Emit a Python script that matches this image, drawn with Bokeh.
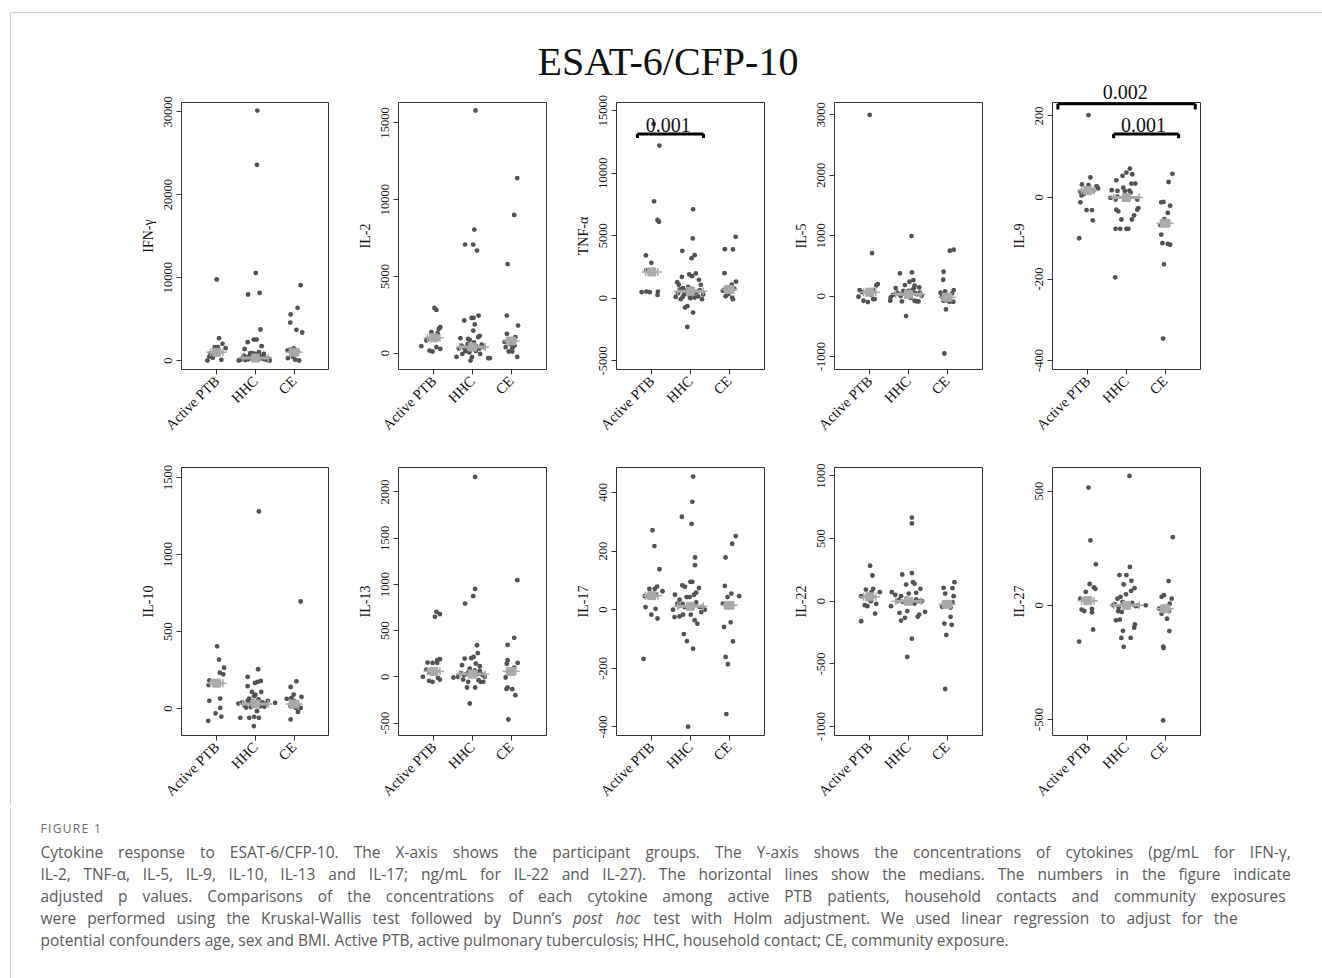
import math
from bokeh.plotting import figure
from bokeh.layouts import row, column
from bokeh.models import Range1d, FixedTicker, Label, Arrow, NumeralTickFormatter, Div, ColumnDataSource
from bokeh.core.properties import value
from bokeh.embed import file_html
from bokeh.resources import INLINE

GROUPS = ["Active PTB", "HHC", "CE"]

# ---------------- data ----------------
IFNG_PTB = [9770, 2690, 2010, 1600, 1600, 1490, 880, 480, 320, 0, 80, 720]
IFNG_PTB_JIT = [0.00, 0.06, 0.15, -0.05, 0.03, 0.23, -0.16, -0.19, -0.10, -0.24, 0.12, -0.07]
IFNG_HHC = [30150, 23600, 10570, 7960, 8160, 3740, 2210, 2530, 2530, 1730, 1400, 880, 1000, 800,
            0, 100, 250, 600, 50, 400, 150, 700, 300, 500, 200, 650, 100, 350, 550, 250, 450, 150,
            300, 50, 200, 0, 800, 900]
IFNG_HHC_JIT = [0.05, 0.04, 0.01, -0.19, 0.11, 0.13, -0.20, -0.04, 0.03, 0.16, -0.28, -0.13, 0.09, 0.22,
                -0.43, -0.38, -0.33, -0.30, -0.26, -0.22, -0.18, -0.14, -0.10, -0.06, -0.02, 0.02, 0.05,
                0.08, 0.12, 0.15, 0.19, 0.23, 0.27, 0.31, 0.35, 0.37, 0.0, -0.08]
IFNG_CE = [9085, 6350, 5550, 4580, 3700, 3380, 280, 440, 1130, 0, 1300, 100, 1450, 1200]
IFNG_CE_JIT = [0.17, 0.09, -0.09, -0.10, 0.06, 0.21, -0.16, -0.03, 0.09, 0.13, -0.10, 0.03, -0.01, -0.17]
IFNG_MED = [1000, 300, 1000]

IL2_PTB = [2950, 2820, 1690, 1580, 1370, 1300, 930, 930, 455, 170, 110, 280, 390, 825]
IL2_PTB_JIT = [0.02, 0.07, 0.17, 0.13, -0.06, 0.10, -0.17, 0.07, -0.32, -0.11, -0.03, 0.17, 0.07, -0.19]
IL2_HHC = [15800, 8050, 7070, 7070, 6680, 2450, 2300, 2300, 2130, 1870, 1475, 1130, 1040, 975, 930, 870,
           -240, -45, -480, -260, -45, -325, -325, 130, 430, 300, 500, 350, 600, 250, 700, 450, 300,
           550, 400, 150, 50]
IL2_HHC_JIT = [0.08, 0.05, -0.19, 0.02, 0.12, 0.16, -0.02, 0.03, -0.21, 0.06, 0.02, 0.19, 0.15, -0.31,
               -0.11, -0.07, -0.41, -0.26, -0.05, -0.01, 0.20, 0.41, 0.45, -0.18, -0.14, -0.35, -0.28,
               -0.22, -0.12, -0.04, 0.04, 0.10, 0.18, 0.24, 0.30, 0.09, -0.08]
IL2_CE = [11400, 9000, 5800, 2450, 1800, 1260, 1040, 825, 740, 600, 390, 500, 110, 110, -240, 325]
IL2_CE_JIT = [0.16, 0.08, -0.09, -0.11, 0.18, -0.11, 0.11, 0.01, -0.17, -0.03, -0.14, 0.09, -0.06, 0.03, 0.16, 0.03]
IL2_MED = [1000, 400, 800]

TNF_PTB = [13930, 12200, 7740, 6250, 6110, 3420, 2830, 2240, 2240, 480, 534, 480, 534, 267]
TNF_PTB_JIT = [0.05, 0.20, 0.06, 0.15, 0.19, -0.15, -0.01, -0.14, 0.03, -0.26, -0.14, -0.05, 0.16, 0.15]
TNF_HHC = [7100, 4780, 3790, 3440, 3200, 1900, 1980, 1760, 1710, 1470, 1280, 1070, 1070, 800, 900,
           -750, -640, -1150, -2300, 107, -80, -80, 53, 400, 700, 300, 600, 200, 750, 350, 500, 150,
           650, 300, 0, 100]
TNF_HHC_JIT = [0.07, 0.06, -0.21, 0.11, 0.03, -0.03, 0.14, 0.04, -0.22, 0.22, -0.34, -0.30, 0.27, -0.19,
               -0.06, -0.14, -0.08, 0.07, -0.08, -0.38, -0.25, 0.30, 0.11, -0.32, -0.26, -0.16, -0.10,
               -0.02, 0.04, 0.09, 0.16, 0.20, 0.24, 0.33, 0.0, -0.20]
TNF_CE = [4910, 3920, 3900, 2000, 1330, 1090, 800, 590, 160, 53, -80, 320, 770, 670]
TNF_CE_JIT = [0.17, -0.11, 0.10, -0.12, 0.18, 0.07, -0.06, -0.16, -0.09, 0.08, 0.10, -0.02, 0.13, -0.13]
TNF_MED = [2100, 550, 700]

IL5_PTB = [3000, 712, 199, 177, 99, 66, 99, 22, -11, -77, -99, -50, -50]
IL5_PTB_JIT = [0.00, 0.06, 0.21, 0.17, -0.26, -0.20, 0.09, 0.04, -0.29, -0.16, -0.05, 0.09, 0.13]
IL5_HHC = [994, 375, 392, 265, 237, 182, 133, 171, 143, 88, 33, -22, -77, -88, -77, -88, -88, -331, 88, 5,
           20, 60, 0, 40, 70, 10, 100, 130, 50, 30, 60, -30]
IL5_HHC_JIT = [0.08, -0.22, 0.09, 0.13, 0.03, -0.09, -0.33, 0.16, 0.28, -0.13, -0.24, -0.46, -0.47, -0.17,
               0.16, 0.22, 0.26, -0.06, 0.00, 0.34, -0.40, -0.30, -0.20, -0.12, -0.04, 0.04, 0.10, 0.14,
               0.18, 0.22, 0.30, 0.06]
IL5_CE = [767, 751, 403, 270, 77, 55, 99, 44, -11, -77, -77, -94, -94, -221, -950, -33]
IL5_CE_JIT = [0.17, 0.07, -0.09, -0.10, -0.05, -0.17, 0.17, 0.13, -0.13, -0.09, 0.02, 0.07, 0.16, -0.03, -0.07, 0.00]
IL5_MED = [65, 30, -20]

IL9_PTB = [202, 49, 32, 30, 28, 22, 14, 17, 5, -12, -31, -31, -56, -100, 9]
IL9_PTB_JIT = [0.02, 0.07, -0.15, 0.02, 0.23, 0.27, -0.19, 0.15, -0.16, -0.19, -0.03, 0.11, 0.13, -0.22, -0.09]
IL9_HHC = [71, 61, 57, 53, 42, 34, 18, 16, 16, 17, 12, 2, -1, -5, -5, -26, -30, -30, -34, -44, -54, -54,
           -77, -77, -77, -77, -196, 24, 34, 5]
IL9_HHC_JIT = [0.09, 0.00, 0.15, -0.10, -0.26, 0.23, -0.38, -0.23, -0.04, 0.08, 0.11, -0.23, -0.41, 0.28,
               -0.28, 0.31, -0.26, 0.28, -0.21, 0.20, -0.13, 0.14, -0.16, 0.00, 0.05, -0.28, -0.29, -0.08,
               0.13, -0.03]
IL9_CE = [58, 38, -11, -12, -20, -38, -53, -68, -91, -112, -114, -116, -164, -346, -63]
IL9_CE_JIT = [0.19, 0.09, -0.04, -0.10, 0.13, 0.07, -0.02, -0.12, -0.10, -0.07, 0.07, 0.13, -0.03, -0.05, 0.03]
IL9_MED = [17, 0, -63]

IL10_PTB = [404, 317, 265, 222, 233, 183, 153, 50, 65, 4, -32, -52, -80]
IL10_PTB_JIT = [0.01, 0.06, 0.19, 0.17, 0.08, -0.19, -0.21, -0.19, 0.09, 0.09, -0.03, 0.12, -0.22]
IL10_HHC = [1280, 255, 205, 179, 173, 166, 145, 108, 108, 80, 65, 32, 37, 6, -17, -60, -60, -60, -54, -114,
            11, 32, 40, 20, 50, 10, 45, 25, 60, 15, 40, 30, 50, 90]
IL10_HHC_JIT = [0.09, 0.07, -0.20, 0.14, 0.06, -0.01, -0.20, -0.09, 0.15, -0.03, -0.16, -0.44, 0.51, -0.24,
                0.04, -0.16, 0.09, -0.39, -0.03, -0.04, 0.23, -0.11, -0.34, -0.28, -0.20, -0.12, -0.06,
                0.02, 0.08, 0.12, 0.18, 0.26, 0.32, 0.0]
IL10_CE = [695, 177, 140, 91, 69, 63, 76, 50, 15, 4, 4, -22, -71, 32, 26]
IL10_CE_JIT = [0.17, 0.06, -0.09, -0.01, -0.07, -0.19, 0.19, 0.00, -0.09, 0.04, 0.17, 0.10, -0.09, -0.02, 0.09]
IL10_MED = [165, 30, 30]

IL13_PTB = [703, 678, 649, 191, 180, 155, 151, 151, 79, 54, 0, -11, -29, -43, -54]
IL13_PTB_JIT = [0.07, 0.16, 0.03, 0.16, 0.09, -0.16, -0.03, 0.09, -0.19, -0.11, -0.28, 0.11, 0.16, -0.12, -0.03]
IL13_HHC = [2162, 951, 872, 793, 342, 256, 216, 202, 198, 144, 126, 90, 115, 65, 29, 36, 36, -7, 0, 0,
            -29, -36, -54, -54, -115, -115, -288, -54, 40, 20, 50, 10, 70, 30, 20, 40]
IL13_HHC_JIT = [0.07, 0.07, 0.02, -0.19, 0.12, 0.14, 0.03, -0.03, -0.20, 0.09, -0.27, -0.07, 0.19, 0.19,
                -0.16, 0.02, 0.22, -0.49, -0.37, 0.32, -0.24, 0.16, 0.28, 0.21, -0.14, 0.07, -0.07, -0.11,
                -0.30, -0.22, -0.10, -0.02, 0.06, 0.12, 0.26, 0.0]
IL13_CE = [1045, 422, 346, 180, 151, 141, 101, 61, -7, -115, -130, -133, -198, -461]
IL13_CE_JIT = [0.16, 0.08, -0.09, -0.09, 0.17, -0.11, 0.08, 0.00, -0.14, -0.09, -0.12, 0.03, 0.11, -0.07]
IL13_MED = [60, 30, 60]

IL17_PTB = [271, 217, 138, 63, 79, 71, 71, 47, 51, 46, 9, 3, -17, -30, -168]
IL17_PTB_JIT = [0.02, 0.07, 0.20, 0.28, 0.14, 0.08, -0.06, -0.09, 0.11, -0.18, -0.16, 0.10, -0.01, 0.15, -0.21]
IL17_HHC = [454, 368, 317, 293, 178, 152, 83, 95, 95, 78, 74, 58, 51, 51, 43, 34, 21, 0, 0, -25, -23, -8,
            -17, -17, -36, -48, -83, -107, -133, -399, 43, 9, 9, 12, 20, 5, 15, 25, 10]
IL17_HHC_JIT = [0.07, 0.05, -0.22, 0.03, 0.12, 0.12, -0.21, 0.00, 0.05, -0.14, 0.22, 0.15, -0.40, 0.09,
                -0.10, -0.28, -0.34, -0.45, 0.37, -0.41, -0.28, 0.28, -0.19, 0.01, 0.11, 0.18, -0.17,
                -0.09, 0.07, -0.06, -0.02, -0.15, 0.24, -0.30, -0.20, -0.05, 0.05, 0.15, 0.30]
IL17_CE = [251, 225, 178, 81, 55, 43, 46, 21, 17, -59, -43, -108, -161, -186, -356]
IL17_CE_JIT = [0.17, 0.08, -0.09, -0.11, 0.06, -0.04, 0.26, -0.16, 0.01, -0.13, 0.04, 0.10, -0.09, -0.03, -0.07]
IL17_MED = [48, 12, 15]

IL22_PTB = [283, 205, 99, 93, 72, 72, 40, -32, -40, 0, -21, -99, -160]
IL22_PTB_JIT = [0.01, 0.07, 0.09, -0.10, 0.26, 0.05, -0.22, -0.13, -0.06, 0.03, 0.17, 0.14, -0.22]
IL22_HHC = [667, 621, 213, 224, 139, 133, 152, 99, 72, 61, 67, 40, 51, -40, -13, -19, -93, -80, -133, -155,
            -107, -125, -85, -299, -445, 0, 0, 10, -5, 20, 5, -10, 15, 0]
IL22_HHC_JIT = [0.09, 0.09, -0.16, 0.09, 0.16, -0.06, 0.12, 0.31, -0.43, 0.01, 0.20, -0.19, -0.34, -0.45,
                0.00, 0.16, -0.23, -0.03, -0.09, -0.19, 0.28, 0.24, 0.43, 0.09, -0.03, -0.28, 0.28, -0.25,
                -0.15, -0.05, 0.05, 0.12, 0.20, 0.35]
IL22_CE = [152, 107, 104, 61, 40, -8, -45, -51, -21, -179, -189, -125, -269, -701]
IL22_CE_JIT = [0.19, -0.09, 0.14, -0.05, 0.17, 0.14, -0.13, 0.09, 0.00, -0.07, 0.12, 0.09, -0.02, -0.05]
IL22_MED = [35, 0, -25]

IL27_PTB = [515, 284, 179, 93, 78, 72, 59, 29, -19, -25, -31, -106, -159, -16]
IL27_PTB_JIT = [0.02, 0.07, 0.21, 0.05, 0.16, 0.20, -0.05, -0.19, -0.16, -0.09, 0.11, 0.14, -0.22, 0.11]
IL27_HHC = [566, 168, 132, 132, 107, 91, 75, 63, 37, 48, 29, 0, 0, -4, -26, -29, -66, -63, -84, -98, -112,
            -143, -143, -182, -7, 5, -10, 15, -5, 10, -2]
IL27_HHC_JIT = [0.08, 0.09, -0.18, 0.00, 0.13, -0.07, 0.21, 0.12, -0.15, -0.01, -0.23, 0.50, -0.34, 0.24,
                -0.21, -0.12, -0.27, -0.17, 0.22, 0.20, -0.09, -0.13, 0.11, -0.07, 0.03, -0.30, -0.20,
                -0.10, 0.05, 0.15, 0.28]
IL27_CE = [298, 106, 44, 37, 29, 7, -15, -26, -37, -59, -113, -181, -187, -504, -12]
IL27_CE_JIT = [0.20, 0.09, -0.03, -0.09, 0.17, 0.12, -0.15, 0.10, -0.09, 0.05, 0.11, -0.05, -0.04, -0.05, 0.02]
IL27_MED = [20, 0, -15]

# axis ticks per panel
IFNG_TICKS = [0, 10000, 20000, 30000]
IL2_TICKS = [0, 5000, 10000, 15000]
TNF_TICKS = [-5000, 0, 5000, 10000, 15000]
IL5_TICKS = [-1000, 0, 1000, 2000, 3000]
IL9_TICKS = [-400, -200, 0, 200]
IL10_TICKS = [0, 500, 1000, 1500]
IL13_TICKS = [-500, 0, 500, 1000, 1500, 2000]
IL17_TICKS = [-400, -200, 0, 200, 400]
IL22_TICKS = [-1000, -500, 0, 500, 1000]
IL27_TICKS = [-500, 0, 500]

# adjusted p-value brackets: (label, x_from, x_to, y_bar, y_tick_end, x_text, y_text)
TNF_P = [("0.001", 0.63, 2.34, 13130, 12810, 1.43, 13856)]
IL9_P = [(None, 0.23, 3.78, 230, 216, None, None),
         ("0.001", 1.67, 3.35, 156, 145, 2.44, 178)]
IL9_TOP_P = "0.002"   # label of the wide IL-9 bracket, sits above the panel box

TITLE = "ESAT-6/CFP-10"
FIG_LABEL = "FIGURE 1"
CAPTION = [
    "Cytokine response to ESAT-6/CFP-10. The X-axis shows the participant groups. The Y-axis shows the concentrations of cytokines (pg/mL for IFN-\u03b3,",
    "IL-2, TNF-\u03b1, IL-5, IL-9, IL-10, IL-13 and IL-17; ng/mL for IL-22 and IL-27). The horizontal lines show the medians. The numbers in the figure indicate",
    "adjusted p values. Comparisons of the concentrations of each cytokine among active PTB patients, household contacts and community exposures",
    "were performed using the Kruskal-Wallis test followed by Dunn\u2019s _post _hoc test with Holm adjustment. We used linear regression to adjust for the",
    "potential confounders age, sex and BMI. Active PTB, active pulmonary tuberculosis; HHC, household contact; CE, community exposure.",
]

# ---------------- styling ----------------
SERIF = "Liberation Serif"
SANS = "Open Sans"
DOT = "#525252"
MED = "#a9a9a9"
INK = "#111111"
BORDER = "#d0d0d0"
MED_HALF = [0.16, 0.33, 0.12]
X_RANGE = (0.09, 3.915)
FRAME_W = 148
LEFT_B = 69
DECO_W = 112
PANEL_W = [217, 218, 218, 218, 339]
TITLE_H = 102          # title strip overlaps the top border of row 1 (OVERLAP px)
OVERLAP = 22
ROW1 = dict(top=22, frame=267, bottom=78)
ROW2 = dict(top=20, frame=268, bottom=70)
CAP_H = 978 - (TITLE_H - OVERLAP) - (ROW1["top"] + ROW1["frame"] + ROW1["bottom"]) - (ROW2["top"] + ROW2["frame"] + ROW2["bottom"])
CAP_FS = 15.5
CAP_LEFT = 40
CAP_RIGHT = [1290, 1290, 1285, 1237, None]
CAP_Y = [44, 66, 88, 110, 132]
FIG_LABEL_FS = 12
FIG_LABEL_TRACK = 1.3

# approximate Open Sans advance widths (1/1000 em) used to space the words of the caption lines
OS_W = {' ': 260, ',': 245, '-': 322, '.': 266, '/': 367, '(': 296, ')': 296, ':': 266, ';': 266,
        '\u2019': 174, '\u03b1': 600, '\u03b3': 501,
        'A': 633, 'B': 648, 'C': 631, 'D': 729, 'E': 556, 'F': 516, 'G': 728, 'H': 738, 'I': 279,
        'J': 267, 'K': 614, 'L': 519, 'M': 907, 'N': 766, 'O': 781, 'P': 605, 'Q': 781, 'R': 630,
        'S': 549, 'T': 553, 'U': 729, 'V': 606, 'W': 928, 'X': 594, 'Y': 565, 'Z': 556,
        'a': 556, 'b': 613, 'c': 476, 'd': 613, 'e': 561, 'f': 339, 'g': 548, 'h': 614, 'i': 253,
        'j': 253, 'k': 525, 'l': 253, 'm': 930, 'n': 614, 'o': 604, 'p': 613, 'q': 613, 'r': 408,
        's': 477, 't': 353, 'u': 614, 'v': 501, 'w': 778, 'x': 524, 'y': 501, 'z': 468}


def em(s):
    return sum(OS_W.get(c, 572) for c in s) / 1000.0


# calibration: last caption line measured at 968 px wide when set at 15.5px
CAL = (968.0 / 15.5) / em(CAPTION[4])


def make_panel(name, groups, jits, med, ylim, ticks, col, rowspec, pvals=(), transparent=False):
    p = figure(frame_width=FRAME_W, frame_height=rowspec["frame"],
               min_border_left=LEFT_B, min_border_right=PANEL_W[col] - LEFT_B - FRAME_W,
               min_border_top=rowspec["top"], min_border_bottom=rowspec["bottom"],
               x_range=Range1d(*X_RANGE), y_range=Range1d(*ylim),
               output_backend="svg", toolbar_location=None, tools="")
    p.xgrid.visible = False
    p.ygrid.visible = False
    p.outline_line_color = "#333333"
    p.outline_line_width = 1
    p.background_fill_color = "white"
    p.border_fill_color = None if transparent else "white"

    for gi, (vals, jit) in enumerate(zip(groups, jits)):
        xs = [gi + 1 + j for j, _ in zip(jit, vals)]
        ys = [v for _, v in zip(jit, vals)]
        p.scatter(xs, ys, size=4.8, color=DOT, line_color=None)
    for gi, m in enumerate(med):
        h = MED_HALF[gi]
        p.segment([gi + 1 - h], [m], [gi + 1 + h], [m], line_color=MED, line_width=3)
        p.scatter([gi + 1 - h, gi + 1 + h], [m, m], marker="cross", size=8,
                  line_color=MED, line_width=1.5)
        p.scatter([gi + 1], [m], marker="square", size=8, color=MED)

    for (txt, x0, x1, yb, yt, xt, ytxt) in pvals:
        for (a, b, c, d) in [(x0, yt, x0, yb), (x0, yb, x1, yb), (x1, yb, x1, yt)]:
            p.add_layout(Arrow(end=None, start=None, x_start=a, y_start=b, x_end=c, y_end=d,
                               line_color="black", line_width=3))
        if txt is not None:
            p.add_layout(Label(x=xt, y=ytxt, text=txt, text_font=SERIF, text_font_size="20px",
                               text_align="center", text_baseline="middle", text_color=INK))

    ax = p.yaxis[0]
    ax.ticker = FixedTicker(ticks=ticks)
    ax.formatter = NumeralTickFormatter(format="0")
    ax.major_label_orientation = "vertical"
    ax.axis_label = name
    ax.axis_label_text_font = SERIF
    ax.axis_label_text_font_style = "normal"
    ax.axis_label_text_font_size = "14px"
    ax.axis_label_text_color = INK
    ax.axis_label_standoff = 6
    ax.major_label_text_font = SERIF
    ax.major_label_text_font_size = "12.5px"
    ax.major_label_text_color = INK
    ax.major_label_standoff = 4
    ax.axis_line_color = None
    ax.minor_tick_line_color = None
    ax.major_tick_in = 0
    ax.major_tick_out = 5
    ax.major_tick_line_color = "#333333"

    bx = p.xaxis[0]
    bx.ticker = FixedTicker(ticks=[1, 2, 3])
    bx.major_label_overrides = {1: GROUPS[0], 2: GROUPS[1], 3: GROUPS[2]}
    bx.major_label_orientation = math.pi / 4
    bx.major_label_text_font = SERIF
    bx.major_label_text_font_size = "14.5px"
    bx.major_label_text_color = INK
    bx.major_label_standoff = 4
    bx.axis_line_color = None
    bx.minor_tick_line_color = None
    bx.major_tick_in = 0
    bx.major_tick_out = 5
    bx.major_tick_line_color = "#333333"
    return p


def blank(width, height, top_line=False):
    d = figure(width=width, height=height, x_range=Range1d(0, width), y_range=Range1d(height, 0),
               min_border=0, output_backend="svg", toolbar_location=None, tools="")
    d.axis.visible = False
    d.grid.visible = False
    d.outline_line_color = None
    y0 = 12 if top_line else 0
    d.segment([10], [y0], [10], [height], line_color=BORDER, line_width=1)
    if top_line:
        d.segment([10], [12], [width], [12], line_color=BORDER, line_width=1)
    return d


def side_strip(height, transparent=False):
    css = ("linear-gradient(to right, rgba(255,255,255,0) 10px, %s 10px, %s 11px, "
           "rgba(255,255,255,0) 11px)" % (BORDER, BORDER))
    st = {"background": css}
    if not transparent:
        st["background-color"] = "white"
    return Div(text="", width=DECO_W, height=height, margin=0, styles=st)


# title strip (also carries the label of the wide IL-9 bracket, which sits above that panel's box)
title_fig = blank(1322, TITLE_H, top_line=True)
title_fig.add_layout(Label(x=667.5, y=60.5, text=TITLE, text_font=SERIF, text_font_size="40px",
                           text_align="center", text_baseline="middle", text_color=INK))
il9_frame_left = DECO_W + sum(PANEL_W[:4]) + LEFT_B
il9_units = FRAME_W / (X_RANGE[1] - X_RANGE[0])
title_fig.add_layout(Label(x=il9_frame_left + (1.97 - X_RANGE[0]) * il9_units, y=91.7, text=IL9_TOP_P,
                           text_font=SERIF, text_font_size="20px", text_align="center",
                           text_baseline="middle", text_color=INK))

row1_specs = [
    ("IFN-\u03b3", [IFNG_PTB, IFNG_HHC, IFNG_CE], [IFNG_PTB_JIT, IFNG_HHC_JIT, IFNG_CE_JIT], IFNG_MED, (-1084, 31120), IFNG_TICKS, ()),
    ("IL-2", [IL2_PTB, IL2_HHC, IL2_CE], [IL2_PTB_JIT, IL2_HHC_JIT, IL2_CE_JIT], IL2_MED, (-1061, 16322), IL2_TICKS, ()),
    ("TNF-\u03b1", [TNF_PTB, TNF_HHC, TNF_CE], [TNF_PTB_JIT, TNF_HHC_JIT, TNF_CE_JIT], TNF_MED, (-5696, 15640), TNF_TICKS, TNF_P),
    ("IL-5", [IL5_PTB, IL5_HHC, IL5_CE], [IL5_PTB_JIT, IL5_HHC_JIT, IL5_CE_JIT], IL5_MED, (-1215, 3204), IL5_TICKS, ()),
    ("IL-9", [IL9_PTB, IL9_HHC, IL9_CE], [IL9_PTB_JIT, IL9_HHC_JIT, IL9_CE_JIT], IL9_MED, (-422, 233), IL9_TICKS, IL9_P),
]
row2_specs = [
    ("IL-10", [IL10_PTB, IL10_HHC, IL10_CE], [IL10_PTB_JIT, IL10_HHC_JIT, IL10_CE_JIT], IL10_MED, (-175, 1565), IL10_TICKS, ()),
    ("IL-13", [IL13_PTB, IL13_HHC, IL13_CE], [IL13_PTB_JIT, IL13_HHC_JIT, IL13_CE_JIT], IL13_MED, (-634, 2264), IL13_TICKS, ()),
    ("IL-17", [IL17_PTB, IL17_HHC, IL17_CE], [IL17_PTB_JIT, IL17_HHC_JIT, IL17_CE_JIT], IL17_MED, (-429, 485), IL17_TICKS, ()),
    ("IL-22", [IL22_PTB, IL22_HHC, IL22_CE], [IL22_PTB_JIT, IL22_HHC_JIT, IL22_CE_JIT], IL22_MED, (-1072, 1067), IL22_TICKS, ()),
    ("IL-27", [IL27_PTB, IL27_HHC, IL27_CE], [IL27_PTB_JIT, IL27_HHC_JIT, IL27_CE_JIT], IL27_MED, (-570, 603), IL27_TICKS, ()),
]

r1 = [side_strip(ROW1["top"] + ROW1["frame"] + ROW1["bottom"], transparent=True)]
for i, s in enumerate(row1_specs):
    r1.append(make_panel(s[0], s[1], s[2], s[3], s[4], s[5], i, ROW1, s[6], transparent=True))
r2 = [side_strip(ROW2["top"] + ROW2["frame"] + ROW2["bottom"])]
for i, s in enumerate(row2_specs):
    r2.append(make_panel(s[0], s[1], s[2], s[3], s[4], s[5], i, ROW2, s[6]))

# caption
cap = blank(1322, CAP_H)
# letter-spaced "FIGURE 1"
fl = dict(x=[], y=[], text=[])
xx = CAP_LEFT
for ch in FIG_LABEL:
    if ch != " ":
        fl["x"].append(xx)
        fl["y"].append(21)
        fl["text"].append(ch)
    xx += em(ch) * CAL * FIG_LABEL_FS + FIG_LABEL_TRACK
cap.text(x="x", y="y", text="text", source=ColumnDataSource(fl), text_font=value(SANS),
         text_font_size=value("%gpx" % FIG_LABEL_FS), text_baseline=value("middle"),
         text_align=value("left"), text_color="#6a6a6a")

norm = dict(x=[], y=[], text=[])
ital = dict(x=[], y=[], text=[])
for line, yy, right in zip(CAPTION, CAP_Y, CAP_RIGHT):
    words = line.split(" ")
    clean = [w.lstrip("_") for w in words]
    widths = [em(w) * CAL * CAP_FS for w in clean]
    if right is None:
        gap = em(" ") * CAL * CAP_FS
    else:
        gap = (right - CAP_LEFT - sum(widths)) / (len(words) - 1)
    x = CAP_LEFT
    for w, c, wd in zip(words, clean, widths):
        tgt = ital if w.startswith("_") else norm
        tgt["x"].append(x)
        tgt["y"].append(yy)
        tgt["text"].append(c)
        x += wd + gap
for src, style in [(norm, "normal"), (ital, "italic")]:
    cap.text(x="x", y="y", text="text", source=ColumnDataSource(src),
             text_font=value(SANS), text_font_size=value("%gpx" % CAP_FS),
             text_font_style=value(style), text_baseline=value("middle"),
             text_align=value("left"), text_color="#5a5a5a")

layout = column(title_fig, row(*r1, margin=(-OVERLAP, 0, 0, 0)), row(*r2), cap)
open("out.html", "w").write(file_html(layout, INLINE))
